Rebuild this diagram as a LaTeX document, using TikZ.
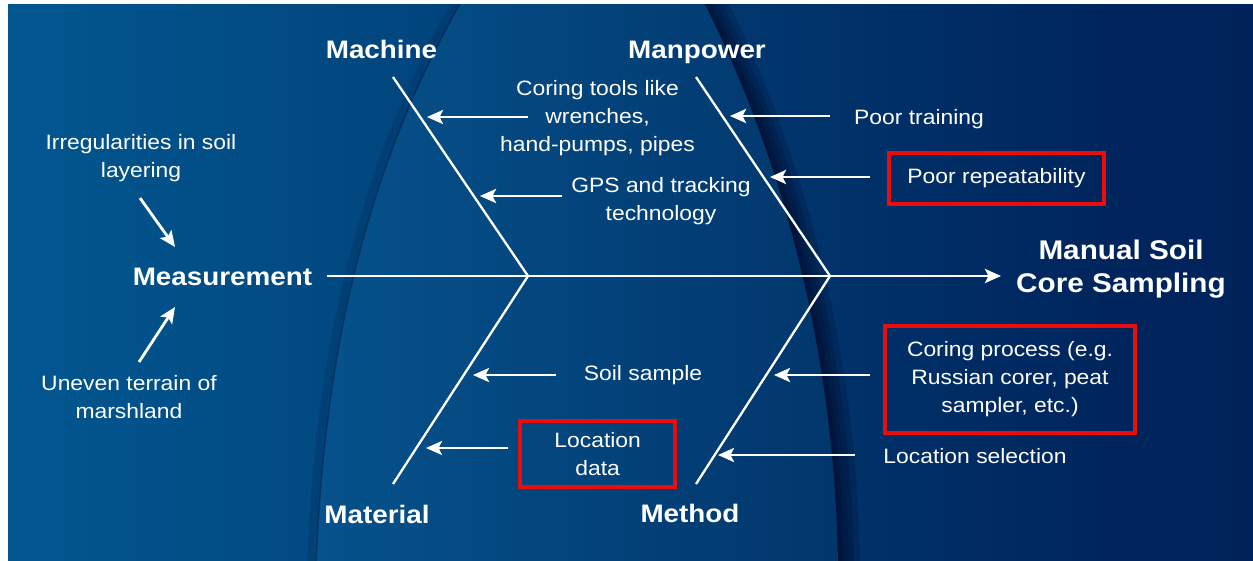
\documentclass[tikz,border=0pt]{standalone}
\usepackage{fontspec}
\setmainfont{Liberation Sans}[FakeStretch=1.1]
\usetikzlibrary{arrows.meta}
\definecolor{dropL}{RGB}{6,82,140}
\definecolor{dropR}{RGB}{1,54,108}
\definecolor{rimC}{RGB}{0,6,36}
\definecolor{boxred}{RGB}{235,12,12}
\pgfdeclarehorizontalshading{bgshade}{100bp}{
  rgb(0bp)=(0.012,0.416,0.639);
  rgb(24bp)=(0.008,0.345,0.569);
  rgb(48bp)=(0.004,0.243,0.463);
  rgb(70bp)=(0,0.141,0.361);
  rgb(100bp)=(0,0.102,0.314)}
\begin{document}
\begin{tikzpicture}[x=1pt,y=-1pt,
  txt/.style={text=white,font=\fontsize{20.8}{28}\selectfont,inner sep=0pt,align=center},
  cat/.style={text=white,font=\fontsize{25.3}{30}\selectfont\bfseries,inner sep=0pt,anchor=base},
  bone/.style={draw=white,line width=2.3pt},
  arr/.style={draw=white,line width=2.8pt,-{Stealth[length=16pt,width=14pt,inset=3.5pt]}},
  redbox/.style={draw=boxred,line width=3.6pt,inner sep=0pt,text=white,
    font=\fontsize{20.8}{28}\selectfont,align=center}]
% canvas
\useasboundingbox (0,0) rectangle (1253,560);
\fill[white] (0,0) rectangle (1253,560);
\shade[shading=bgshade] (8,4) rectangle (1253,565);
% drop shape
\begin{scope}
\clip (8,4) rectangle (1253,565);
\foreach \w in {44,32,22,12,6}{
  \draw[rimC,opacity=0.2,line width=\w pt]
    (700,-5) .. controls (770,130) and (835,330) .. (838,566);}
\path[left color=dropL,right color=dropR]
  (316,566) .. controls (325,330) and (375,150) .. (465,-5) -- (700,-5)
  .. controls (770,130) and (835,330) .. (838,566) -- cycle;
\draw[rimC,opacity=0.35,line width=1.5pt]
  (316,566) .. controls (325,330) and (375,150) .. (465,-5);
\draw[rimC,opacity=0.12,line width=8pt]
  ([xshift=-5pt]316,566) .. controls ([xshift=-5pt]325,330) and ([xshift=-5pt]375,150) .. ([xshift=-5pt]465,-5);
\end{scope}
% coordinates of the skeleton
\coordinate (spS) at (327,276);
\coordinate (spE) at (1001,276);
\coordinate (j1) at (528,276);
\coordinate (j2) at (830,276);
\coordinate (maT) at (393,77);
\coordinate (mpT) at (696,77);
\coordinate (mtB) at (393,484);
\coordinate (mdB) at (696,484);
% category labels
\node[cat] (meas) at (222.5,285) {Measurement};
\node[cat] (machine) at (381.5,58) {Machine};
\node[cat] (manpower) at (697,58) {Manpower};
\node[cat] (material) at (377,523) {Material};
\node[cat] (method) at (690,522.5) {Method};
\node[text=white,font=\fontsize{27}{33}\selectfont\bfseries,inner sep=0pt,align=center]
  (effect) at (1121,269.5) {Manual Soil\\Core Sampling};
% bones
\draw[bone] (maT) -- (j1) -- (mtB);
\draw[bone] (mpT) -- (j2) -- (mdB);
\draw[arr] (spS) -- (spE);
% causes
\node[txt] (irreg) at (141,158.2) {Irregularities in soil\\layering};
\node[txt] (uneven) at (129,397.5) {Uneven terrain of\\marshland};
\node[txt] (tools) at (597.5,117.7) {Coring tools like\\wrenches,\\hand-pumps, pipes};
\node[txt] (gps) at (661,201.2) {GPS and tracking\\technology};
\node[txt,anchor=base] (train) at (919,124) {Poor training};
\node[redbox,minimum width=215pt,minimum height=51pt] (repeat) at (996.5,178.5) {Poor repeatability};
\node[txt,anchor=base] (soil) at (643,380.7) {Soil sample};
\node[redbox,minimum width=155pt,minimum height=66pt] (locdata) at (597.7,454) {Location\\data};
\node[redbox,minimum width=250pt,minimum height=107pt] (coring) at (1010,379.5)
  {Coring process (e.g.\\Russian corer, peat\\sampler, etc.)};
\node[txt,anchor=base] (locsel) at (975,463) {Location selection};
% arrow ends
\coordinate (irS) at (140,198);   \coordinate (irE) at (175,247);
\coordinate (unS) at (139,362);   \coordinate (unE) at (175,307);
\coordinate (toS) at (528,117);   \coordinate (toE) at (427,117);
\coordinate (gpS) at (562,196);   \coordinate (gpE) at (480,196);
\coordinate (trS) at (830,116);   \coordinate (trE) at (730,116);
\coordinate (reS) at (870,177);   \coordinate (reE) at (770,177);
\coordinate (soS) at (556,375);   \coordinate (soE) at (473,375);
\coordinate (ldS) at (508,448);   \coordinate (ldE) at (426,448);
\coordinate (coS) at (870,375);   \coordinate (coE) at (774,375);
\coordinate (lsS) at (855,455);   \coordinate (lsE) at (718,455);
\draw[arr] (irS) -- (irE);
\draw[arr] (unS) -- (unE);
\draw[arr] (toS) -- (toE);
\draw[arr] (gpS) -- (gpE);
\draw[arr] (trS) -- (trE);
\draw[arr] (reS) -- (reE);
\draw[arr] (soS) -- (soE);
\draw[arr] (ldS) -- (ldE);
\draw[arr] (coS) -- (coE);
\draw[arr] (lsS) -- (lsE);
\end{tikzpicture}
\end{document}
